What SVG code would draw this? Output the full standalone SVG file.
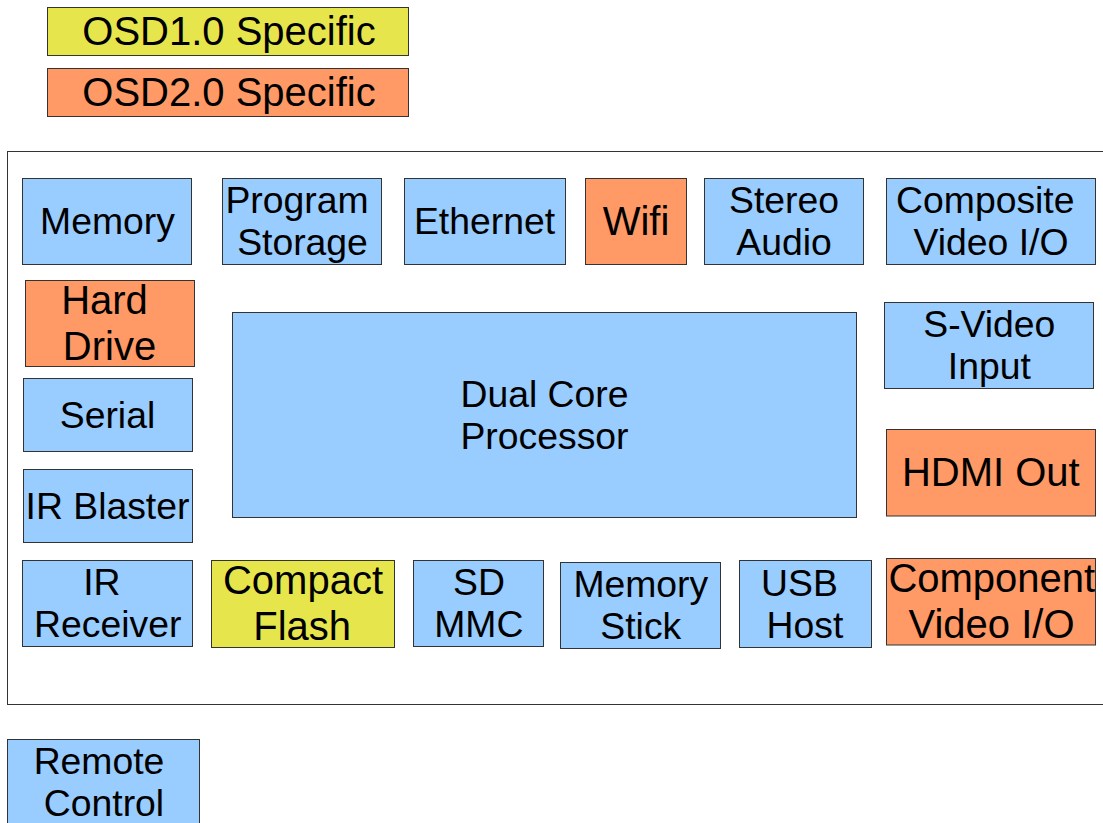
<svg xmlns="http://www.w3.org/2000/svg" width="1103" height="823" viewBox="0 0 1103 823">
<style>
rect{stroke:#333333;stroke-width:1}
.b{fill:#99ccff}
.o{fill:#ff9966}
.y{fill:#e6e64c}
text{font-family:"Liberation Sans",Arial,sans-serif;fill:#000;text-anchor:middle}
.s{font-size:37.33px}
.l{font-size:40px}
</style>
<rect x="0" y="0" width="1103" height="823" style="fill:#fff;stroke:none"/>
<g id="legend-osd1"><rect class="y" x="47.5" y="7.5" width="361" height="48"/><text class="l" x="229" y="44.7">OSD1.0 Specific</text></g>
<g id="legend-osd2"><rect class="o" x="47.5" y="68.5" width="361" height="48"/><text class="l" x="229" y="105.7">OSD2.0 Specific</text></g>
<g id="board"><rect x="7.5" y="151.5" width="1110" height="553" style="fill:none"/></g>
<g id="memory"><rect class="b" x="22.5" y="178.5" width="169" height="86"/><text class="s" x="107.5" y="234">Memory</text></g>
<g id="program-storage"><rect class="b" x="222.5" y="178.5" width="159" height="86"/><text class="s" x="297" y="213">Program</text><text class="s" x="302.5" y="255">Storage</text></g>
<g id="ethernet"><rect class="b" x="404.5" y="178.5" width="161" height="86"/><text class="s" x="484.5" y="234">Ethernet</text></g>
<g id="wifi"><rect class="o" x="585.5" y="178.5" width="101" height="86"/><text class="l" x="636" y="234.7">Wifi</text></g>
<g id="stereo-audio"><rect class="b" x="704.5" y="178.5" width="159" height="86"/><text class="s" x="784" y="213">Stereo</text><text class="s" x="784" y="255">Audio</text></g>
<g id="composite-video"><rect class="b" x="886.5" y="178.5" width="209" height="86"/><text class="s" x="985.3" y="213">Composite</text><text class="s" x="991" y="255">Video I/O</text></g>
<g id="hard-drive"><rect class="o" x="25.5" y="280.5" width="169" height="86"/><text class="l" x="104.5" y="313.7">Hard</text><text class="l" x="109.5" y="359.7">Drive</text></g>
<g id="serial"><rect class="b" x="23.5" y="378.5" width="169" height="73"/><text class="s" x="107.5" y="427.5">Serial</text></g>
<g id="ir-blaster"><rect class="b" x="23.5" y="469.5" width="169" height="73"/><text class="s" x="107.5" y="518.5">IR Blaster</text></g>
<g id="dual-core-processor"><rect class="b" x="232.5" y="312.5" width="624" height="205"/><text class="s" x="544.5" y="406.5">Dual Core</text><text class="s" x="544.5" y="448.5">Processor</text></g>
<g id="s-video"><rect class="b" x="884.5" y="302.5" width="209" height="86"/><text class="s" x="989.3" y="337">S-Video</text><text class="s" x="989.3" y="379">Input</text></g>
<g id="hdmi-out"><rect class="o" x="886.5" y="429.5" width="209" height="86.5"/><text class="l" x="990.8" y="486">HDMI Out</text></g>
<g id="ir-receiver"><rect class="b" x="22.5" y="560.5" width="170" height="86"/><text class="s" x="101.8" y="595">IR</text><text class="s" x="107.7" y="637">Receiver</text></g>
<g id="compact-flash"><rect class="y" x="211.5" y="560.5" width="183" height="87"/><text class="l" x="303" y="594.2">Compact</text><text class="l" x="302.2" y="640.2">Flash</text></g>
<g id="sd-mmc"><rect class="b" x="413.5" y="560.5" width="130" height="86"/><text class="s" x="479" y="595">SD</text><text class="s" x="478.8" y="637">MMC</text></g>
<g id="memory-stick"><rect class="b" x="560.5" y="562.5" width="160" height="86"/><text class="s" x="640.8" y="597">Memory</text><text class="s" x="640.8" y="639">Stick</text></g>
<g id="usb-host"><rect class="b" x="739.5" y="560.5" width="132" height="87"/><text class="s" x="799.5" y="595.5">USB</text><text class="s" x="805" y="637.5">Host</text></g>
<g id="component-video"><rect class="o" x="886.5" y="558.5" width="209" height="86.5"/><text class="l" x="991.8" y="592">Component</text><text class="l" x="991.5" y="638">Video I/O</text></g>
<g id="remote-control"><rect class="b" x="7.5" y="739.5" width="192" height="86"/><text class="s" x="99" y="774">Remote</text><text class="s" x="104" y="816">Control</text></g>
<g id="connectors"></g>
</svg>
